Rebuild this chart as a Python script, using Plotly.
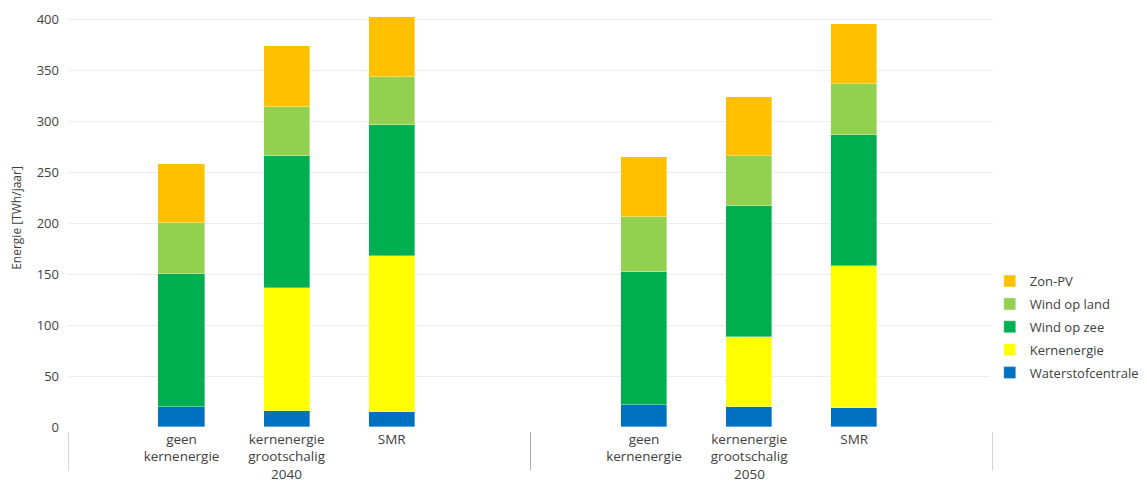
import plotly.graph_objects as go

years = ["2040", "2050"]
scenarios = ["geen<br>kernenergie", "kernenergie<br>grootschalig", "SMR"]

# values per bar: order 2040 (geen, groot, SMR), 2050 (geen, groot, SMR)
waterstof = [20, 16, 15, 22, 20, 19]
kernenergie = [0, 120, 153, 0, 68, 139]
wind_zee = [130, 130, 128, 130, 129, 128]
wind_land = [50, 48, 47, 54, 49, 50]
zon_pv = [58, 60, 59, 59, 58, 59]

series = [
    ("Waterstofcentrale", waterstof, "#0070C0"),
    ("Kernenergie", kernenergie, "#FFFF00"),
    ("Wind op zee", wind_zee, "#00B050"),
    ("Wind op land", wind_land, "#92D050"),
    ("Zon-PV", zon_pv, "#FFC000"),
]

GROUP_W = 4.4
xpos = [g * GROUP_W + i for g in range(len(years)) for i in range(len(scenarios))]
ticktext = [s for _ in years for s in scenarios]

fig = go.Figure()
for idx, (name, vals, col) in enumerate(series):
    fig.add_trace(go.Bar(
        x=xpos, y=vals, name=name, width=0.44, legendgroup=name,
        legendrank=len(series) - idx,
        marker=dict(color=col, line=dict(color="rgba(255,255,255,0.6)", width=0.6)),
    ))

font_col = "#404040"
x_left = -1 - 0.08
x_right = x_left + GROUP_W * len(years)

shapes = []
for k in range(len(years) + 1):
    xs = x_left + k * GROUP_W
    shapes.append(dict(type="line", xref="x", yref="paper", x0=xs, x1=xs,
                       y0=-0.012, y1=-0.103, line=dict(color="#a6a6a6", width=1)))

annotations = []
for g, yr in enumerate(years):
    annotations.append(dict(x=g * GROUP_W + 1, y=-0.113, xref="x", yref="paper",
                            text=yr, showarrow=False, yanchor="middle",
                            borderpad=0,
                            font=dict(size=13.5, color=font_col)))

fig.update_layout(
    barmode="stack",
    width=1139, height=476,
    margin=dict(l=60, r=154, t=1, b=57),
    paper_bgcolor="white", plot_bgcolor="white",
    font=dict(family="Segoe UI, Open Sans, Noto Sans, sans-serif", size=13, color=font_col),
    xaxis=dict(range=[x_left, x_right], tickvals=xpos, ticktext=ticktext,
               showgrid=False, zeroline=False, showline=False, ticks="",
               ticklabelstandoff=2,
               tickfont=dict(size=13.5, color=font_col)),
    yaxis=dict(range=[0, 410], tickvals=[0, 50, 100, 150, 200, 250, 300, 350, 400],
               showgrid=True, gridcolor="#ececec", gridwidth=1, zeroline=False,
               showline=False, ticks="", ticklabelstandoff=8,
               title=dict(text="Energie [TWh/jaar]", font=dict(size=12, color=font_col), standoff=14),
               tickfont=dict(size=13, color=font_col)),
    legend=dict(x=0.9965, xanchor="left", y=0.385, yanchor="top",
                traceorder="grouped", tracegroupgap=3,
                font=dict(size=13, color=font_col), itemwidth=30),
    shapes=shapes, annotations=annotations,
    bargap=0,
)

fig.write_html("out.html")
